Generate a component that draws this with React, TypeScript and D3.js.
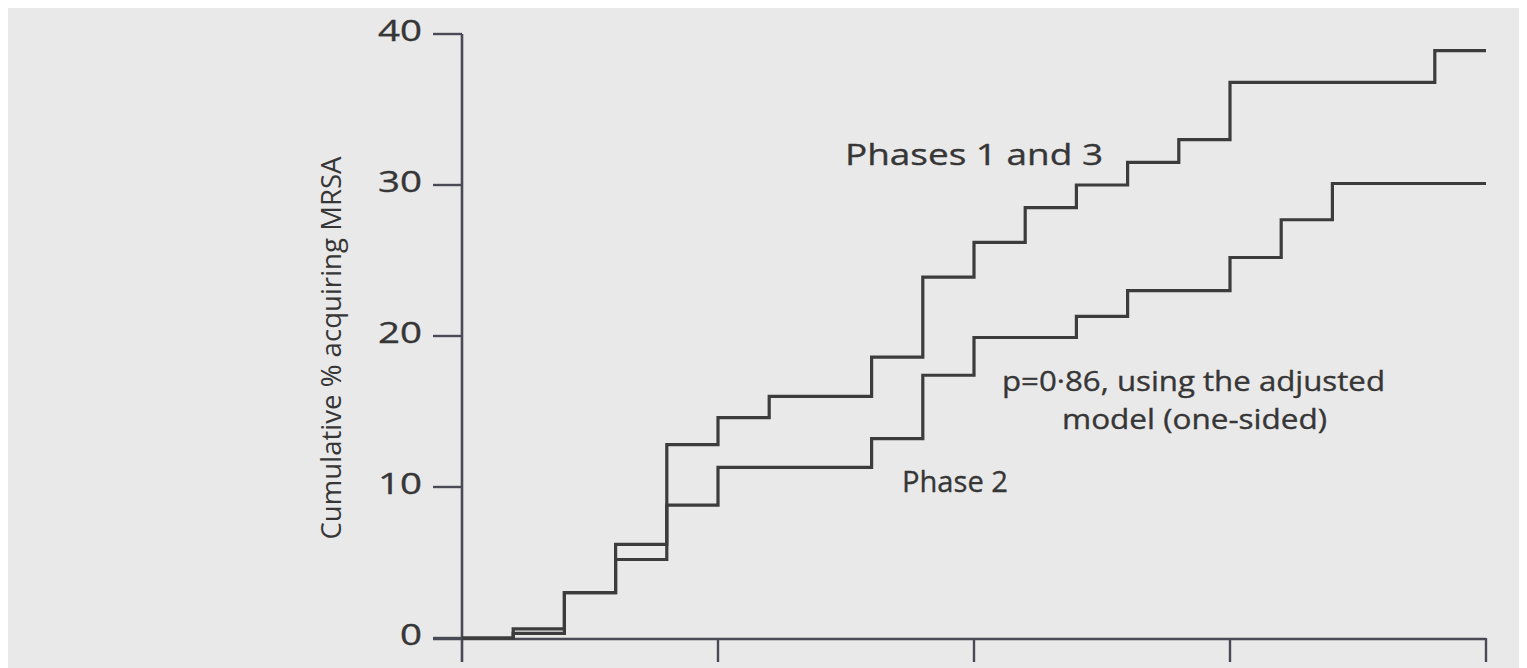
import React from "react";
import * as d3 from "d3";

const times = [0, 1, 2, 3, 4, 5, 6, 7, 8, 9, 10, 11, 12, 13, 14, 15, 16, 17, 18, 19, 20];
const phases13 = [0, 0.6, 3.0, 6.2, 12.8, 14.6, 16.0, 16.0, 18.6, 23.9, 26.2, 28.5, 30.0, 31.5, 33.0, 36.8, 36.8, 36.8, 36.8, 38.9, 38.9];
const phase2 = [0, 0.3, 3.0, 5.2, 8.8, 11.3, 11.3, 11.3, 13.2, 17.4, 19.9, 19.9, 21.3, 23.0, 23.0, 25.2, 27.7, 30.1, 30.1, 30.1, 30.1];
const yTicks = [0, 10, 20, 30, 40];
const xTicks = [0, 5, 10, 15, 20];
const yLabel = "Cumulative % acquiring MRSA";

const W = 1519;
const H = 660;

export default function App() {
  const x = d3.scaleLinear().domain([0, 20]).range([462, 1486]);
  const y = d3.scaleLinear().domain([0, 40]).range([638, 34]);
  const line = d3
    .line<[number, number]>()
    .x((d) => x(d[0]))
    .y((d) => y(d[1]))
    .curve(d3.curveStepAfter);
  const p13 = line(times.map((t, i) => [t, phases13[i]]) as [number, number][]) || "";
  const p2 = line(times.map((t, i) => [t, phase2[i]]) as [number, number][]) || "";
  const axisColor = "#4a4a56";
  const lineColor = "#3c3c3c";
  const textColor = "#363636";
  const font = "'Open Sans', 'Noto Sans', sans-serif";
  const textStroke = { stroke: textColor, strokeWidth: 0.35 };

  return (
    <svg width={W} height={H} style={{ display: "block", background: "#e9e9e9" }}>
      <g transform="translate(-8,-8)">
        {/* y axis */}
        <line x1={x(0)} x2={x(0)} y1={y(40)} y2={662} stroke={axisColor} strokeWidth={2.6} />
        {yTicks.map((t) => (
          <g key={"yt" + t}>
            <line x1={433} x2={x(0)} y1={y(t)} y2={y(t)} stroke={axisColor} strokeWidth={2.4} />
            <text
              x={422}
              y={y(t) + 7}
              textAnchor="end"
              fontFamily={font}
              fontSize={29}
              fill={textColor}
              {...textStroke}
              textLength={String(t).length * 22}
              lengthAdjust="spacingAndGlyphs"
            >
              {t}
            </text>
          </g>
        ))}
        {/* x axis */}
        <line x1={433} x2={x(20)} y1={y(0) + 1} y2={y(0) + 1} stroke={axisColor} strokeWidth={2.6} />
        {xTicks.slice(1).map((t) => (
          <line key={"xt" + t} x1={x(t)} x2={x(t)} y1={y(0)} y2={662} stroke={axisColor} strokeWidth={2.4} />
        ))}
        {/* y label */}
        <text
          transform={`translate(341,348) rotate(-90)`}
          textAnchor="middle"
          fontFamily={font}
          fontSize={27}
          fill={textColor}
          textLength={383}
          lengthAdjust="spacingAndGlyphs"
        >
          {yLabel}
        </text>
        {/* step lines */}
        <path d={p2} fill="none" stroke={lineColor} strokeWidth={3.2} />
        <path d={p13} fill="none" stroke={lineColor} strokeWidth={3.2} />
        {/* annotations */}
        <text x={845} y={165} fontFamily={font} fontSize={30} fill={textColor} {...textStroke} textLength={258} lengthAdjust="spacingAndGlyphs">
          Phases 1 and 3
        </text>
        <text x={1002} y={391} fontFamily={font} fontSize={27} fill={textColor} {...textStroke} textLength={383} lengthAdjust="spacingAndGlyphs">
          p=0·86, using the adjusted
        </text>
        <text x={1062} y={429} fontFamily={font} fontSize={27} fill={textColor} {...textStroke} textLength={265} lengthAdjust="spacingAndGlyphs">
          model (one-sided)
        </text>
        <text x={902} y={492} fontFamily={font} fontSize={30} fill={textColor} {...textStroke} textLength={106} lengthAdjust="spacingAndGlyphs">
          Phase 2
        </text>
      </g>
    </svg>
  );
}
